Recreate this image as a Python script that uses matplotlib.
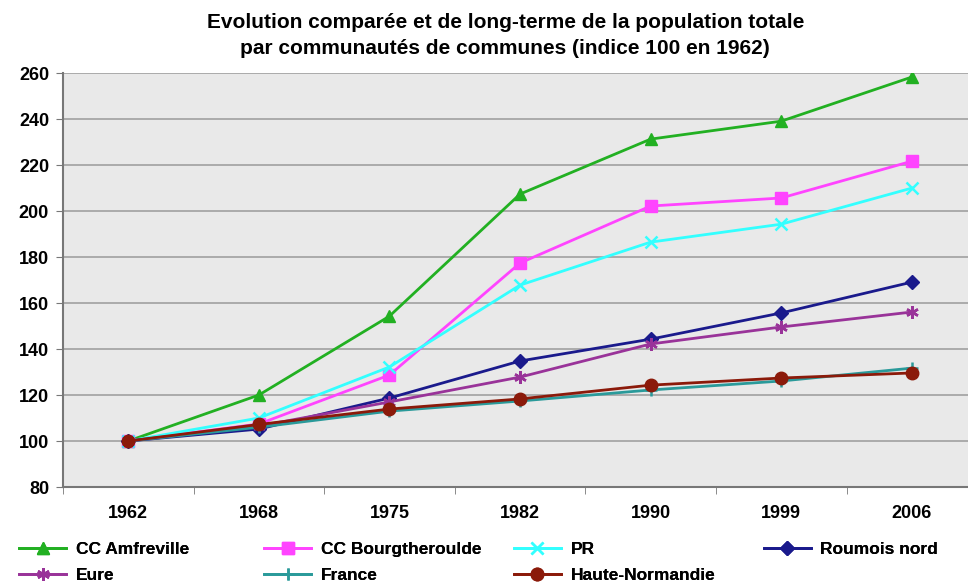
import matplotlib
matplotlib.use("Agg")
import matplotlib.pyplot as plt
from matplotlib.ticker import FixedLocator

# --- Données (indice 100 en 1962) ---
annees = ["1962", "1968", "1975", "1982", "1990", "1999", "2006"]
amfreville = [100, 120, 154.3, 207.4, 231.3, 239.1, 258.3]
bourgtheroulde = [100, 107.4, 128.7, 177.4, 202.2, 205.7, 221.7]
pr = [100, 110, 132.2, 167.8, 186.5, 194.3, 210]
roumois_nord = [100, 105.2, 118.7, 134.8, 144.3, 155.7, 169.1]
eure = [100, 106.5, 117, 127.8, 142.2, 149.6, 156.1]
france = [100, 106, 113, 117.4, 122.2, 126.1, 131.7]
haute_normandie = [100, 107.2, 113.9, 118.3, 124.3, 127.4, 129.6]

series = [
    ("CC Amfreville", amfreville, "#22b022", "^", 9),
    ("CC Bourgtheroulde", bourgtheroulde, "#ff44ff", "s", 8),
    ("PR", pr, "#33ffff", "x", 8),
    ("Roumois nord", roumois_nord, "#1a1a8c", "D", 7),
    ("Eure", eure, "#993399", (6, 2, 0), 9),
    ("France", france, "#2a9a9a", "+", 9),
    ("Haute-Normandie", haute_normandie, "#8b1a0a", "o", 9),
]

plt.rcParams['font.family'] = ['Liberation Sans', 'DejaVu Sans']

fig = plt.figure(figsize=(9.68, 5.85), dpi=100)
ax = fig.add_axes([0.065, 0.1675, 0.935, 0.7075])
ax.set_facecolor("#e9e9e9")

x = list(range(len(annees)))
handles = []
for name, vals, col, mk, ms in series:
    h, = ax.plot(x, vals, color=col, marker=mk, markersize=ms, linewidth=2,
                 markeredgewidth=1.8 if mk in ("x", "+", (6, 2, 0)) else 1,
                 label=name)
    handles.append(h)

ax.set_ylim(80, 260)
ax.set_yticks(range(80, 261, 20))
ax.yaxis.grid(True, color="#a0a0a0", linewidth=1.2)
ax.set_axisbelow(True)
ax.set_xlim(-0.5, 6.43)
ax.set_xticks(x)
ax.set_xticklabels(annees, fontweight="bold", fontsize=13)
ax.xaxis.set_minor_locator(FixedLocator([i + 0.5 for i in range(-1, 7)]))
ax.tick_params(axis="x", which="major", length=0, pad=13)
ax.tick_params(axis="x", which="minor", length=5, color="#777777")
ax.tick_params(axis="y", length=5, color="#777777", labelsize=13, pad=5)
for lab in ax.get_yticklabels():
    lab.set_fontweight("bold")

for s in ("top", "right"):
    ax.spines[s].set_visible(False)
for s in ("left", "bottom"):
    ax.spines[s].set_color("#777777")
    ax.spines[s].set_linewidth(1.5)

fig.suptitle("Evolution comparée et de long-terme de la population totale\n"
             "par communautés de communes (indice 100 en 1962)",
             x=0.522, y=0.978, fontsize=15, fontweight="bold", linespacing=1.45)

# legend: one column per legend so the columns sit where they do in the reference
col_x = [0.02, 0.273, 0.531, 0.789]
cols = [[0, 4], [1, 5], [2, 6], [3]]
for cx, idx in zip(col_x, cols):
    leg = fig.legend(handles=[handles[i] for i in idx], loc="upper left",
                     bbox_to_anchor=(cx, 0.073), frameon=False,
                     handlelength=2.7, handletextpad=0.55, borderaxespad=0,
                     borderpad=0, labelspacing=0.6,
                     prop={"weight": "bold", "size": 12.5})
    fig.add_artist(leg)

fig.savefig("out.png", dpi=100)
